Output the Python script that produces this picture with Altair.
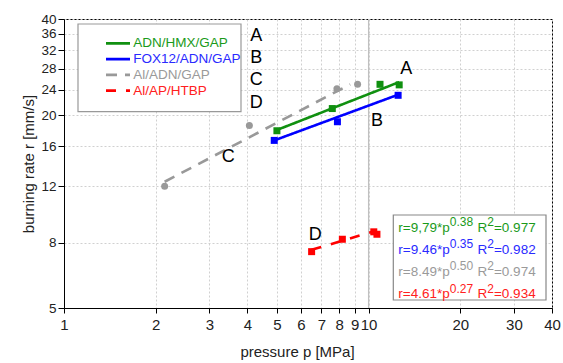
import altair as alt
import pandas as pd

# ---------------- data ----------------
series = ["ADN/HMX/GAP", "FOX12/ADN/GAP", "Al/ADN/GAP", "Al/AP/HTBP"]
colors = ["#109010", "#0000ff", "#999999", "#ff0000"]
text_colors = ["#1a9a1a", "#2a2aff", "#9a9a9a", "#ff2020"]

green_p = [5.0, 7.6, 10.9, 12.6]
green_r = [17.9, 21.0, 25.0, 24.9]
blue_p = [4.9, 7.9, 12.5]
blue_r = [16.7, 19.1, 23.1]
gray_p = [2.14, 4.06, 7.87, 9.2]
gray_r = [12.0, 18.6, 24.2, 25.0]
red_p = [6.5, 8.2, 10.4, 10.65]
red_r = [7.5, 8.2, 8.65, 8.5]

# fitted lines (end points)
green_fit_p = [5.0, 12.6]
green_fit_r = [18.0, 25.4]
blue_fit_p = [4.9, 12.5]
blue_fit_r = [16.7, 23.2]
gray_fit_p = [2.14, 8.7]
gray_fit_r = [12.4, 25.0]
red_fit_p = [6.5, 10.5]
red_fit_r = [7.6, 8.7]

# annotation letters on the plot
letters = ["A", "B", "C", "D"]
letter_p = [13.3, 10.66, 3.46, 6.68]
letter_r = [27.9, 19.2, 14.8, 8.45]

# fit equations
fit_coef = ["r=9,79*p", "r=9.46*p", "r=8.49*p", "r=4.61*p"]
fit_exp = ["0.38", "0.35", "0.50", "0.27"]
fit_r2 = ["=0.977", "=0.982", "=0.974", "=0.934"]

x_ticks = [1, 2, 3, 4, 5, 6, 7, 8, 9, 10, 20, 30, 40]
y_ticks = [5, 8, 12, 16, 20, 24, 28, 32, 36, 40]

# ---------------- tables ----------------
pts = pd.concat([
    pd.DataFrame({"series": series[0], "p": green_p, "r": green_r}),
    pd.DataFrame({"series": series[1], "p": blue_p, "r": blue_r}),
    pd.DataFrame({"series": series[2], "p": gray_p, "r": gray_r}),
    pd.DataFrame({"series": series[3], "p": red_p, "r": red_r}),
], ignore_index=True)

fits = pd.concat([
    pd.DataFrame({"series": series[0], "p": green_fit_p, "r": green_fit_r}),
    pd.DataFrame({"series": series[1], "p": blue_fit_p, "r": blue_fit_r}),
    pd.DataFrame({"series": series[2], "p": gray_fit_p, "r": gray_fit_r}),
    pd.DataFrame({"series": series[3], "p": red_fit_p, "r": red_fit_r}),
], ignore_index=True)

lett = pd.DataFrame({"t": letters, "p": letter_p, "r": letter_r})

W, H = 488, 289
FONT = "Liberation Sans"

xscale = alt.Scale(type="log", domain=[1, 40], nice=False)
yscale = alt.Scale(type="log", domain=[5, 40], nice=False)
cscale = alt.Scale(domain=series, range=colors)

xaxis = alt.Axis(values=x_ticks, format="d", title="pressure p [MPa]",
                 grid=True, gridDash=[2, 2], gridColor="#d0d0d0",
                 labelOverlap=False, labelFlush=False, labelBound=False,
                 labelFontSize=15,
                 tickSize=5, labelPadding=4, titleX=233, titleY=43,
                 titleBaseline="middle", titleAlign="center")
yaxis = alt.Axis(values=y_ticks, format="d", title="burning rate r [mm/s]",
                 grid=True, gridDash=[2, 2], gridColor="#d0d0d0",
                 labelOverlap=False, labelFlush=False, labelBound=False,
                 labelFontSize=13.5,
                 tickSize=6, labelPadding=2, titleX=-36, titleY=H / 2,
                 titleBaseline="middle", titleAlign="center")

ref10 = alt.Chart(pd.DataFrame({"p": [10]})).mark_rule(
    color="#c0c0c0", strokeWidth=1.3
).encode(x=alt.X("p:Q", scale=xscale, axis=xaxis))

axes_dummy = alt.Chart(pd.DataFrame({"p": [1], "r": [5]})).mark_point(opacity=0).encode(
    x=alt.X("p:Q", scale=xscale, axis=xaxis),
    y=alt.Y("r:Q", scale=yscale, axis=yaxis),
)

lines = alt.Chart(fits).mark_line(strokeWidth=2.6, clip=True).encode(
    x=alt.X("p:Q", scale=xscale),
    y=alt.Y("r:Q", scale=yscale),
    color=alt.Color("series:N", scale=cscale, legend=None),
    strokeDash=alt.StrokeDash("series:N", scale=alt.Scale(
        domain=series, range=[[1, 0], [1, 0], [11, 8], [10, 10]]), legend=None),
    detail="series:N",
)

points = alt.Chart(pts).mark_point(filled=True, opacity=1, strokeWidth=0).encode(
    x=alt.X("p:Q", scale=xscale),
    y=alt.Y("r:Q", scale=yscale),
    color=alt.Color("series:N", scale=cscale, legend=None),
    shape=alt.Shape("series:N", scale=alt.Scale(
        domain=series, range=["square", "square", "circle", "square"]), legend=None),
    size=alt.Size("series:N", scale=alt.Scale(
        domain=series, range=[49, 49, 64, 49]), legend=None),
)

letter_marks = alt.Chart(lett).mark_text(
    font=FONT, fontSize=18, color="black", align="center", baseline="middle"
).encode(
    x=alt.X("p:Q", scale=xscale),
    y=alt.Y("r:Q", scale=yscale),
    text="t:N",
)

# ---------------- legend (built by hand) ----------------
leg_box = alt.Chart(pd.DataFrame({"a": [0]})).mark_rect(
    fill="white", stroke="#999999", strokeWidth=1.2
).encode(x=alt.value(14), x2=alt.value(177), y=alt.value(5), y2=alt.value(92.7))

leg_rows = pd.DataFrame({
    "series": series,
    "ly": [24.3 + 15.8 * i for i in range(4)],
    "x1": [42] * 4,
    "x2": [66] * 4,
    "tx": [69.3] * 4,
    "tcol": text_colors,
})
leg_lines = alt.Chart(leg_rows).mark_rule(strokeWidth=2.8).encode(
    x=alt.X("x1:Q", scale=None, axis=None),
    x2="x2:Q",
    y=alt.Y("ly:Q", scale=None, axis=None),
    color=alt.Color("series:N", scale=cscale, legend=None),
    strokeDash=alt.StrokeDash("series:N", scale=alt.Scale(
        domain=series, range=[[1, 0], [1, 0], [8, 12.5], [8, 12.5]]), legend=None),
)
leg_text = alt.Chart(leg_rows).mark_text(
    font=FONT, fontSize=13.5, align="left", baseline="middle"
).encode(
    x=alt.X("tx:Q", scale=None, axis=None),
    y=alt.Y("ly:Q", scale=None, axis=None),
    text="series:N",
    color=alt.Color("tcol:N", scale=None),
)
leg_letters = alt.Chart(pd.DataFrame({
    "t": letters, "lx": [192.3] * 4, "ly": [17.3, 39.3, 61.0, 84.3]
})).mark_text(font=FONT, fontSize=18, color="black", align="center", baseline="middle").encode(
    x=alt.X("lx:Q", scale=None, axis=None),
    y=alt.Y("ly:Q", scale=None, axis=None),
    text="t:N",
)

# ---------------- equation box ----------------
AW = {"r": 333, "=": 584, ",": 278, ".": 278, "*": 389, "p": 556, " ": 278, "R": 722}
for d in "0123456789":
    AW[d] = 556


def tw(s, fs):
    return sum(AW.get(c, 556) for c in s) * fs / 1000.0


MAIN, SUP = 13.5, 12
rows = []
for i in range(4):
    base = 212.7 + 22.1 * i
    x = 334.3
    segs = [(fit_coef[i], False, 0), (fit_exp[i], True, 0), ("R", False, 4.5),
            ("2", True, 0), (fit_r2[i], False, 0)]
    for s, sup, gap in segs:
        fs = SUP if sup else MAIN
        x += gap
        rows.append({"t": s, "px": x, "py": base - (5.5 if sup else 0), "fs": fs, "col": text_colors[i]})
        x += tw(s, fs)
eq = pd.DataFrame(rows)

eq_box = alt.Chart(pd.DataFrame({"a": [0]})).mark_rect(
    fill="white", stroke="#888888", strokeWidth=1.2
).encode(x=alt.value(329.3), x2=alt.value(482), y=alt.value(196), y2=alt.value(281))

eq_text = alt.Chart(eq).mark_text(font=FONT, align="left", baseline="alphabetic").encode(
    x=alt.X("px:Q", scale=None, axis=None),
    y=alt.Y("py:Q", scale=None, axis=None),
    text="t:N",
    size=alt.Size("fs:Q", scale=None),
    color=alt.Color("col:N", scale=None),
)

chart = alt.layer(
    axes_dummy, ref10, lines, points, letter_marks,
    leg_box, leg_lines, leg_text, leg_letters,
    eq_box, eq_text,
).properties(
    width=W, height=H,
    autosize=alt.AutoSizeParams(type="none"),
    padding={"left": 64, "top": 19, "right": 11, "bottom": 55},
).configure_view(
    stroke="black", strokeWidth=1
).configure_axis(
    domainColor="black", tickColor="black", labelColor="#222222",
    titleColor="#222222", labelFont=FONT, titleFont=FONT,
    titleFontSize=15, titleFontWeight="normal",
)

chart.save("out.html", embed_options={"renderer": "svg", "actions": False})
